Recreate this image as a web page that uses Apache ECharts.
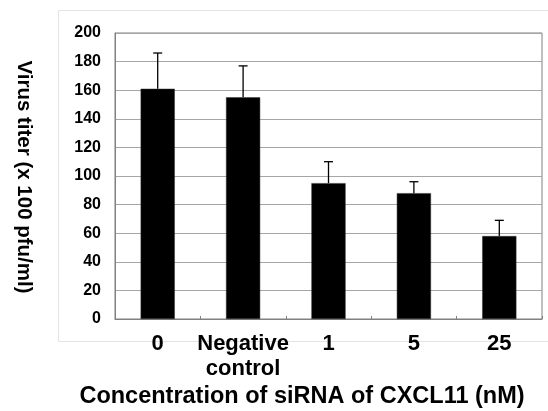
<!DOCTYPE html>
<html>
<head>
<meta charset="utf-8">
<script src="https://cdn.jsdelivr.net/npm/echarts@6/dist/echarts.min.js"></script>
<style>
html,body{margin:0;padding:0;background:#fff;}
#chart{width:548px;height:411px;}
</style>
</head>
<body>
<div id="chart"></div>
<script>
const categories = ['0', 'Negative\ncontrol', '1', '5', '25'];
const virusTiter = [161, 155, 95, 88, 58];
const errorTop = [186, 177, 110, 96, 69];
const yTicks = [0, 20, 40, 60, 80, 100, 120, 140, 160, 180, 200];
const yTitle = 'Virus titer (x 100 pfu/ml)';
const xTitle = 'Concentration of siRNA of CXCL11 (nM)';

const FONT = '"Liberation Sans", Arial, Helvetica, sans-serif';
const errData = categories.map((c, i) => [i, virusTiter[i], errorTop[i]]);

const chart = echarts.init(document.getElementById('chart'), null, {renderer: 'canvas'});
chart.setOption({
  animation: false,
  backgroundColor: '#fff',
  grid: {
    left: 115, right: 6, top: 33, bottom: 92,
    show: true, borderColor: '#808080', borderWidth: 1,
    containLabel: false
  },
  xAxis: {
    type: 'category',
    data: categories,
    boundaryGap: true,
    axisLine: {lineStyle: {color: '#808080', width: 1}},
    axisTick: {show: true, inside: true, length: 3, lineStyle: {color: '#808080'}},
    axisLabel: {
      color: '#000', fontFamily: FONT, fontWeight: 'bold', fontSize: 22,
      lineHeight: 25, margin: 12, interval: 0
    }
  },
  yAxis: {
    type: 'value',
    min: yTicks[0], max: yTicks[yTicks.length - 1], interval: yTicks[1] - yTicks[0],
    axisLine: {show: true, lineStyle: {color: '#808080', width: 1}},
    axisTick: {show: false},
    splitLine: {show: true, lineStyle: {color: '#a6a6a6', width: 1}},
    axisLabel: {color: '#000', fontFamily: FONT, fontWeight: 'bold', fontSize: 16, margin: 14}
  },
  graphic: [
    {
      type: 'rect', z: -10, silent: true,
      shape: {x: 58.5, y: 10.5, width: 600, height: 331},
      style: {fill: 'none', stroke: '#e3e3e3', lineWidth: 1}
    },
    {
      type: 'text', x: 24, y: 177, rotation: -Math.PI / 2,
      style: {
        text: yTitle, fill: '#000', font: 'bold 20.5px ' + FONT,
        textAlign: 'center', textVerticalAlign: 'middle'
      }
    },
    {
      type: 'text', x: 302, y: 397, 
      style: {
        text: xTitle, fill: '#000', font: 'bold 23.5px ' + FONT,
        textAlign: 'center', textVerticalAlign: 'middle'
      }
    }
  ],
  series: [
    {
      type: 'bar',
      data: virusTiter,
      barWidth: '40%',
      itemStyle: {color: '#000', borderColor: '#333', borderWidth: 0.5},
      z: 2
    },
    {
      type: 'custom',
      data: errData,
      z: 5,
      renderItem: function (params, api) {
        const x = api.value(0);
        const base = api.coord([x, api.value(1)]);
        const top = api.coord([x, api.value(2)]);
        const hw = 4.5;
        const st = {stroke: '#000', lineWidth: 1.3};
        return {
          type: 'group',
          children: [
            {type: 'line', shape: {x1: base[0], y1: base[1], x2: top[0], y2: top[1]}, style: st},
            {type: 'line', shape: {x1: top[0] - hw, y1: top[1], x2: top[0] + hw, y2: top[1]}, style: st}
          ]
        };
      }
    }
  ]
});
</script>
</body>
</html>
